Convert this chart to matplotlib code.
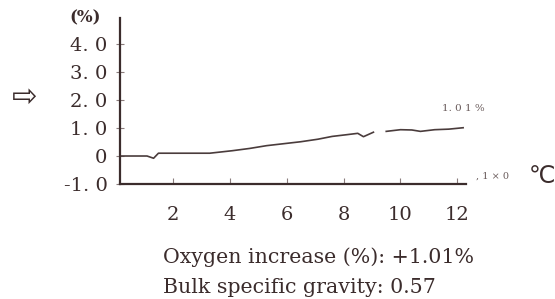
import numpy as np
import matplotlib
matplotlib.use("Agg")
import matplotlib.pyplot as plt

# temperature (x100 degC) and oxygen increase (%)
temp = [0.1, 1.1, 1.33, 1.5, 2.5, 3.3, 4.1, 4.7, 5.3, 5.9, 6.5, 7.1, 7.6, 8.1, 8.5,
        8.7, 9.05, 9.2, 9.5, 10.0, 10.4, 10.7, 11.2, 11.7, 12.2]
oxygen = [0.0, 0.0, -0.08, 0.1, 0.1, 0.1, 0.19, 0.27, 0.37, 0.44, 0.51, 0.6, 0.7,
          0.76, 0.81, 0.69, 0.85, np.nan, 0.88, 0.94, 0.93, 0.88, 0.94, 0.96, 1.01]

y_ticks = [-1, 0, 1, 2, 3, 4]
y_labels = ["-1. 0", "0", "1. 0", "2. 0", "3. 0", "4. 0"]
x_ticks = [2, 4, 6, 8, 10, 12]
x_labels = ["2", "4", "6", "8", "10", "12"]

ink = "#3b2c2c"
serif = "DejaVu Serif"

fig = plt.figure(figsize=(5.55, 2.99), dpi=100)
ax = fig.add_axes([0.2162, 0.3846, 0.6234, 0.5552])

ax.plot(temp, oxygen, color="#4a3c3c", lw=1.2)

ax.set_xlim(0.15, 12.3)
ax.set_ylim(-1, 4.93)
ax.set_yticks(y_ticks)
ax.set_yticklabels(y_labels, fontfamily=serif, fontsize=14, color=ink)
ax.set_xticks(x_ticks)
ax.set_xticklabels(x_labels, fontfamily=serif, fontsize=14, color=ink)
ax.tick_params(axis="y", direction="inout", length=6, width=0.8, color="#8a7c7c", pad=6)
ax.tick_params(axis="x", direction="in", length=4, width=0.8, color="#8a7c7c", pad=16)

for s in ["top", "right"]:
    ax.spines[s].set_visible(False)
for s in ["left", "bottom"]:
    ax.spines[s].set_linewidth(1.6)
    ax.spines[s].set_color(ink)

ax.text(11.45, 1.68, "1. 0 1 %", fontsize=7.5, color="#6a5c5c", fontfamily=serif,
        ha="left", va="center")

# labels around the plot
fig.text(0.153, 0.94, "(%)", fontfamily=serif, fontsize=12, fontweight="bold",
         color=ink, ha="center", va="center")
fig.text(0.045, 0.676, "\u21e8", fontsize=22, color=ink, ha="center", va="center",
         fontfamily="DejaVu Sans")
fig.text(0.858, 0.41, ", 1 \u00d7 0", fontsize=7, color="#6a5c5c",
         fontfamily=serif, ha="left", va="center")
fig.text(0.977, 0.41, "\u2103", fontsize=17, color=ink, ha="center", va="center",
         fontfamily="DejaVu Sans")

fig.text(0.294, 0.14, "Oxygen increase (%): +1.01%", fontfamily=serif, fontsize=14.8,
         color=ink, ha="left", va="center")
fig.text(0.294, 0.04, "Bulk specific gravity: 0.57", fontfamily=serif, fontsize=14.8,
         color=ink, ha="left", va="center")

fig.savefig("out.png", dpi=100)
